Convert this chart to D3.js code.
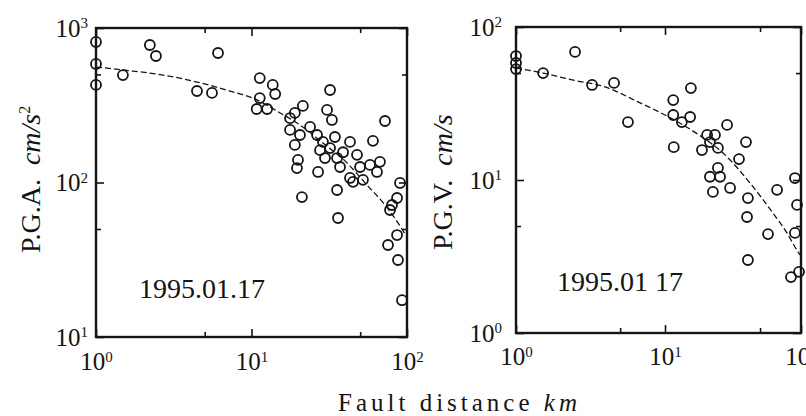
<!DOCTYPE html>
<html>
<head>
<meta charset="utf-8">
<script src="https://cdn.jsdelivr.net/npm/d3@7"></script>
<style>
  body { margin: 0; background: #fff; }
  svg { display: block; }
</style>
</head>
<body>
<svg id="chart" width="806" height="416"></svg>
<script>
// Peak ground acceleration vs fault distance (left panel).
const pgaDistance = [1.0, 1.0, 1.0, 2.22, 2.43, 6.09, 1.49, 4.46, 5.57, 11.3, 13.7, 14.2, 11.3, 10.8, 12.6,
  32.0, 21.4, 19.0, 30.6, 32.9, 72.2, 60.4, 17.7, 17.7, 23.8, 20.5, 19.0, 26.4, 28.8, 34.4, 43.0, 27.6,
  32.0, 38.8, 29.7, 35.5, 47.7, 19.9, 19.6, 26.8, 37.1, 49.9, 57.8, 67.0, 64.1, 35.5, 21.1, 43.0, 52.1,
  90.2, 86.3, 36.0, 45.0, 80.1, 77.8, 86.3, 75.5, 87.5, 92.9];
const pgaValue = [812, 585, 428, 776, 659, 689, 496, 391, 380, 474, 428, 374, 352, 299, 299,
  397, 313, 282, 295, 254, 250, 186, 261, 219, 229, 203, 175, 203, 183, 197, 183, 162,
  167, 157, 144, 144, 151, 140, 124, 117, 126, 126, 130, 136, 117, 89.4, 80.5, 107, 104,
  99.3, 79.4, 58.9, 101, 71.5, 66.4, 45.7, 39.4, 31.5, 17.3];
// dashed regression curve, PGA
const pgaCurveDistance = [1.0, 1.49, 2.70, 4.46, 7.27, 10.2, 15.3, 20.5, 28.8, 39.9, 55.3, 72.2, 90.2, 97.1];
const pgaCurveValue = [559, 535, 496, 447, 391, 352, 282, 236, 180, 138, 96.3, 71.5, 52.3, 46.4];

// Peak ground velocity vs fault distance (right panel).
const pgvDistance = [1.0, 1.0, 1.0, 1.52, 2.49, 3.24, 4.55, 5.64, 11.5, 15.5, 11.5, 15.3, 13.3, 11.6,
  28.6, 20.4, 23.3, 18.7, 21.4, 24.5, 39.4, 35.0, 24.5, 21.4, 25.4, 22.5, 30.1, 40.7, 40.1, 66.7,
  90.3, 93.5, 57.2, 90.3, 40.7, 84.4, 96.7];
const pgvValue = [64.6, 58.2, 53.1, 50.0, 68.7, 41.8, 43.1, 23.9, 33.3, 39.9, 26.6, 25.8, 23.9, 16.4,
  22.9, 19.7, 19.7, 15.7, 17.7, 16.2, 17.7, 13.7, 12.0, 10.5, 10.5, 8.36, 8.87, 7.62, 5.73, 8.62,
  10.3, 6.87, 4.43, 4.51, 3.00, 2.32, 2.51];
// dashed regression curve, PGV
const pgvCurveDistance = [1.0, 1.52, 2.38, 3.96, 6.59, 10.0, 18.7, 26.7, 42.2, 62.2, 78.8, 90.3, 98.3];
const pgvCurveValue = [54.0, 50.0, 45.1, 40.6, 32.4, 26.6, 19.1, 15.0, 9.55, 6.08, 4.51, 3.65, 3.24];

// Ticks and their labels (10 with a superscript exponent).
const distanceTicks = [1, 10, 100];
const distanceMinor = [5, 50];
const distanceExp = ["0", "1", "2"];
const pgaTicks = [10, 100, 1000];
const pgaMinor = [50, 500];
const pgaExp = ["1", "2", "3"];
const pgvTicks = [1, 10, 100];
const pgvMinor = [5, 50];
const pgvExp = ["0", "1", "2"];

const eventDate = "1995.01.17";
const eventDateRight = "1995.01 17";
const xTitle = "Fault distance ";
const xUnit = "km";

const ink = "#141414";
const serif = "'Liberation Serif', 'Times New Roman', 'DejaVu Serif', serif";
const svg = d3.select("#chart");

// Turn an axis' tick labels into "10" + superscript exponent.
function powerLabels(g, exps) {
  g.selectAll(".tick text").each(function (d, i) {
    const t = d3.select(this).text(null);
    t.append("tspan").text("10");
    t.append("tspan").attr("dy", "-0.55em").attr("font-size", 15).text(exps[i]);
  });
}

function drawPanel(p) {
  const { x, y } = p;
  const xr = x.range(), yr = y.range();
  const left = xr[0], right = xr[xr.length - 1];
  const bottom = yr[0], top = yr[yr.length - 1];
  const g = svg.append("g").attr("color", ink);

  // inward tick marks on all four sides
  const tickSets = [
    [d3.axisBottom(x), `translate(0,${bottom})`, p.xMajor, p.xMinor],
    [d3.axisTop(x), `translate(0,${top})`, p.xMajor, p.xMinor],
    [d3.axisLeft(y), `translate(${left},0)`, p.yMajor, p.yMinor],
    [d3.axisRight(y), `translate(${right},0)`, p.yMajor, p.yMinor]
  ];
  tickSets.forEach(([axis, tr, major, minor]) => {
    [[major, 8], [minor, 5]].forEach(([vals, len]) => {
      g.append("g")
        .attr("transform", tr)
        .call(axis.tickValues(vals).tickSizeInner(-len).tickSizeOuter(0).tickFormat(() => ""))
        .call(a => a.select(".domain").remove())
        .selectAll("line").attr("stroke-width", 1.6);
    });
  });

  // frame
  g.append("rect")
    .attr("x", left).attr("y", top)
    .attr("width", right - left).attr("height", bottom - top)
    .attr("fill", "none").attr("stroke", ink).attr("stroke-width", 2.4);

  // tick labels
  g.append("g")
    .attr("transform", `translate(0,${bottom})`)
    .call(d3.axisBottom(x).tickValues(p.xMajor).tickSize(0).tickPadding(p.xPad).tickFormat(() => ""))
    .call(a => a.select(".domain").remove())
    .attr("font-family", serif).attr("font-size", 25)
    .call(a => powerLabels(a, p.xExp));
  g.append("g")
    .attr("transform", `translate(${left},0)`)
    .call(d3.axisLeft(y).tickValues(p.yMajor).tickSize(0).tickPadding(p.yPad).tickFormat(() => ""))
    .call(a => a.select(".domain").remove())
    .attr("font-family", serif).attr("font-size", 25)
    .call(a => powerLabels(a, p.yExp));

  // regression curve
  const line = d3.line()
    .x(d => x(d[0]))
    .y(d => y(d[1]))
    .curve(d3.curveMonotoneX);
  g.append("path")
    .datum(d3.zip(p.curveDistance, p.curveValue))
    .attr("d", line)
    .attr("fill", "none")
    .attr("stroke", ink)
    .attr("stroke-width", 1.3)
    .attr("stroke-dasharray", "6,3");

  // observations
  g.append("g")
    .selectAll("circle")
    .data(d3.zip(p.distance, p.value))
    .join("circle")
    .attr("cx", d => x(d[0]))
    .attr("cy", d => y(d[1]))
    .attr("r", 5)
    .attr("fill", "none")
    .attr("stroke", ink)
    .attr("stroke-width", 1.8);

  // event date
  g.append("text")
    .attr("x", p.dateX).attr("y", p.dateY)
    .attr("text-anchor", "middle")
    .attr("font-family", serif).attr("font-size", 28)
    .attr("fill", ink)
    .text(p.date);

  // y title, rotated
  const title = g.append("text")
    .attr("transform", `translate(${p.titleX},${p.titleY}) rotate(-90)`)
    .attr("font-family", serif).attr("font-size", 28)
    .attr("fill", ink);
  title.append("tspan").text(p.yTitle);
  title.append("tspan").attr("dx", 14).attr("font-style", "italic").text(p.yUnit);
  if (p.yUnitExp) {
    title.append("tspan").attr("dy", -10).attr("font-size", 16).text(p.yUnitExp);
  }
}

drawPanel({
  x: d3.scaleLog().domain([1, 100]).range([96, 407]),
  y: d3.scaleLog().domain([10, 1000]).range([337, 28]),
  xMajor: distanceTicks, xMinor: distanceMinor, xExp: distanceExp,
  yMajor: pgaTicks, yMinor: pgaMinor, yExp: pgaExp,
  xPad: 15, yPad: 8,
  distance: pgaDistance, value: pgaValue,
  curveDistance: pgaCurveDistance, curveValue: pgaCurveValue,
  date: eventDate, dateX: 202, dateY: 298,
  yTitle: "P.G.A.", yUnit: "cm/s", yUnitExp: "2",
  titleX: 40, titleY: 253
});

drawPanel({
  // the scanned figure is slightly stretched between its decades
  x: d3.scaleLog().domain([1, 10, 100]).range([516, 665, 801]),
  y: d3.scaleLog().domain([1, 100]).range([333, 27]),
  xMajor: distanceTicks, xMinor: distanceMinor, xExp: distanceExp,
  yMajor: pgvTicks, yMinor: pgvMinor, yExp: pgvExp,
  xPad: 14, yPad: 14,
  distance: pgvDistance, value: pgvValue,
  curveDistance: pgvCurveDistance, curveValue: pgvCurveValue,
  date: eventDateRight, dateX: 620, dateY: 291,
  yTitle: "P.G.V.", yUnit: "cm/s", yUnitExp: null,
  titleX: 452, titleY: 250
});

// shared x title
const xt = svg.append("text")
  .attr("x", 338).attr("y", 411)
  .attr("font-family", serif).attr("font-size", 25)
  .attr("letter-spacing", 4)
  .attr("fill", ink);
xt.append("tspan").text(xTitle);
xt.append("tspan").attr("font-style", "italic").text(xUnit);
</script>
</body>
</html>
